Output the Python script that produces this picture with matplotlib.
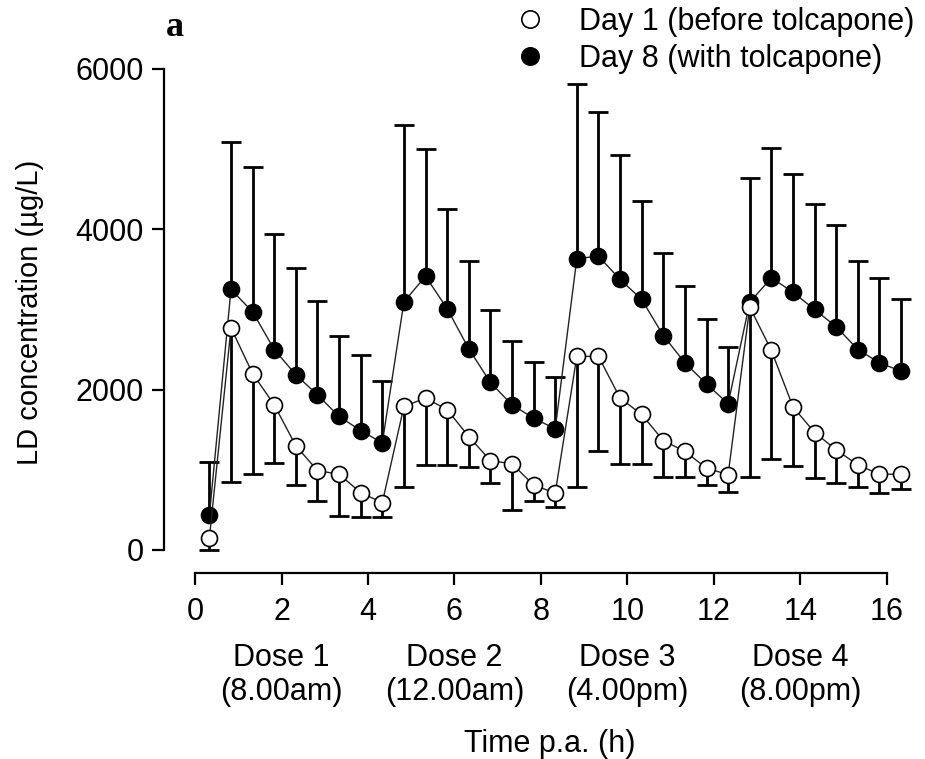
import numpy as np
import matplotlib
matplotlib.use('Agg')
import matplotlib.pyplot as plt
from matplotlib.lines import Line2D

plt.rcParams['font.family'] = ['Liberation Sans', 'DejaVu Sans']

# sampling times (h after first dose)
time_h = [0.33, 0.83, 1.33, 1.83, 2.33, 2.83, 3.33, 3.83, 4.33,
          4.83, 5.33, 5.83, 6.33, 6.83, 7.33, 7.83, 8.33,
          8.83, 9.33, 9.83, 10.33, 10.83, 11.33, 11.83, 12.33,
          12.83, 13.33, 13.83, 14.33, 14.83, 15.33, 15.83, 16.33]

# Day 1 (before tolcapone), mean and lower end of the SD bar
day1 = [150, 2770, 2200, 1810, 1300, 990, 945, 715, 590,
        1790, 1895, 1750, 1415, 1115, 1075, 810, 710,
        2415, 2415, 1895, 1690, 1365, 1230, 1020, 940,
        3030, 2490, 1785, 1465, 1250, 1060, 945, 945]
day1_low = [0, 845, 945, 1085, 810, 605, 425, 410, 410,
            780, 1060, 1060, 1035, 840, 500, 605, 540,
            790, 1240, 1075, 1075, 915, 915, 810, 720,
            915, 1135, 1050, 895, 840, 780, 715, 760]

# Day 8 (with tolcapone), mean and upper end of the SD bar
day8 = [435, 3250, 2970, 2500, 2185, 1935, 1665, 1490, 1335,
        3095, 3415, 3010, 2510, 2090, 1810, 1645, 1510,
        3635, 3665, 3375, 3125, 2675, 2335, 2070, 1825,
        3090, 3395, 3215, 3000, 2785, 2500, 2335, 2230]
day8_high = [1095, 5090, 4780, 3945, 3515, 3110, 2665, 2430, 2105,
             5305, 5000, 4250, 3605, 2990, 2610, 2340, 2155,
             5810, 5465, 4930, 4355, 3710, 3290, 2875, 2535,
             4645, 5010, 4685, 4310, 4050, 3605, 3395, 3135]

dose_pos = [2, 6, 10, 14]
dose_labels = ['Dose 1\n(8.00am)', 'Dose 2\n(12.00am)', 'Dose 3\n(4.00pm)', 'Dose 4\n(8.00pm)']

fig = plt.figure(figsize=(9.25, 7.59), dpi=100)
ax = fig.add_axes([0.1773, 0.2451, 0.8141, 0.6957])
ax.set_xlim(-0.72, 16.7)
ax.set_ylim(-287, 6300)

# error bars: up for day 8, down for day 1
ax.vlines(time_h, day8, day8_high, color='black', lw=2, zorder=1)
ax.plot(time_h, day8_high, ls='none', marker='_', ms=15, mew=2, color='black', zorder=1)
ax.vlines(time_h, day1_low, day1, color='black', lw=2, zorder=1)
ax.plot(time_h, day1_low, ls='none', marker='_', ms=15, mew=2, color='black', zorder=1)

ax.plot(time_h, day8, color='#222222', lw=1, marker='o', ms=11.5,
        mfc='black', mec='black', mew=1.2, zorder=3)
ax.plot(time_h, day1, color='#222222', lw=1, marker='o', ms=11.5,
        mfc='white', mec='black', mew=1.2, zorder=4)

for s in ['top', 'right']:
    ax.spines[s].set_visible(False)
ax.spines['left'].set_bounds(0, 6000)
ax.spines['bottom'].set_bounds(0, 16)
ax.spines['left'].set_linewidth(1.6)
ax.spines['bottom'].set_linewidth(1.6)

ax.set_yticks([0, 2000, 4000, 6000])
ax.set_xticks(range(0, 17, 2))
ax.tick_params(axis='both', length=8.5, width=1.6, labelsize=22, pad=6)
ax.tick_params(axis='x', pad=9)

ax.set_ylabel('LD concentration (µg/L)', fontsize=21)
ax.yaxis.set_label_coords(-0.16, 0.494)

for x, lab in zip(dose_pos, dose_labels):
    ax.text(x, -0.132, lab, transform=ax.get_xaxis_transform(), ha='center', va='top',
            fontsize=22, linespacing=1.2)
ax.text(8.2, -0.295, 'Time p.a. (h)', transform=ax.get_xaxis_transform(),
        ha='center', va='top', fontsize=22)

fig.text(166 / 925, 1 - 28 / 759, 'a', family='Liberation Serif', weight='bold',
         fontsize=26, ha='left', va='center')

handles = [Line2D([], [], ls='none', marker='o', ms=12.5, mfc='white', mec='black', mew=1.2),
           Line2D([], [], ls='none', marker='o', ms=12.5, mfc='black', mec='black', mew=1.2)]
fig.legend(handles, ['Day 1 (before tolcapone)', 'Day 8 (with tolcapone)'],
           loc='upper left', bbox_to_anchor=(518 / 925, 1 - 7 / 759), frameon=False,
           fontsize=22, handlelength=0.8, handletextpad=1.2, borderpad=0,
           borderaxespad=0, labelspacing=0.22)

plt.savefig('out.png', dpi=100)
